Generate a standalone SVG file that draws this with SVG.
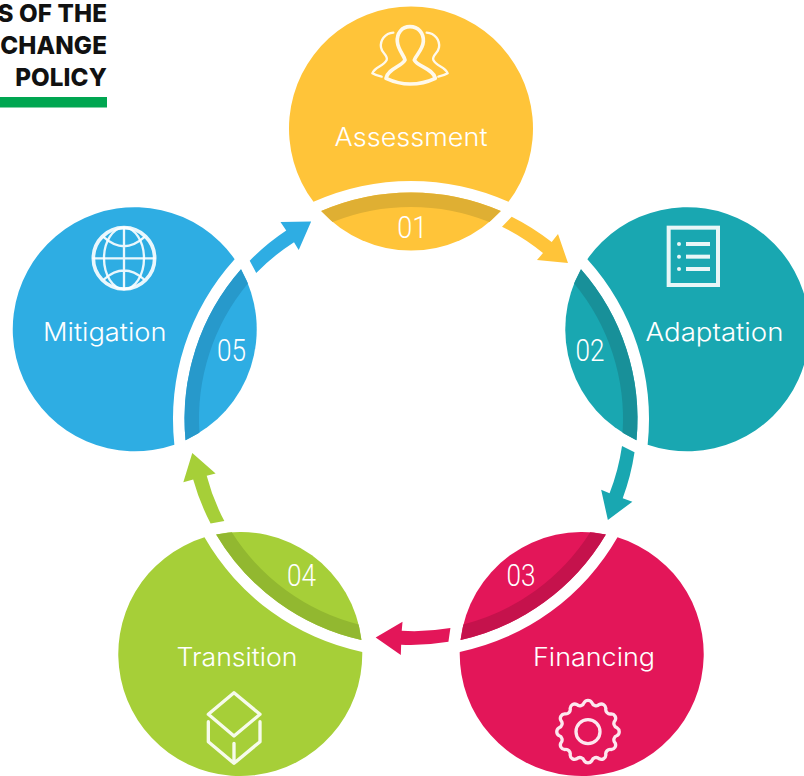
<svg xmlns="http://www.w3.org/2000/svg" width="804" height="776" viewBox="0 0 804 776">
<style>
.lbl{font-family:"Inter","Lato",sans-serif;font-weight:300;font-size:25.500px;fill:#fff;text-anchor:start}
.num{font-family:"Roboto","Liberation Sans",sans-serif;font-weight:300;font-size:31px;fill:#fff}
.head{font-family:"Inter","Liberation Sans",sans-serif;font-weight:800;font-size:24.200px;letter-spacing:.1px;fill:#111;text-anchor:end}
.ic{fill:none;stroke:#fff;stroke-opacity:.9;stroke-linecap:round;stroke-linejoin:round}
</style>
<defs>
<path id="main" d="M313.5 201.87A122 122 0 1 1 508.5 201.87A238 238 0 0 0 313.5 201.87Z"/>
<path id="small" d="M321.2 211.1A226.5 226.5 0 0 1 500.8 211.1A122 122 0 0 1 321.2 211.1Z"/>
<path id="band" d="M321.2 211.1A226.5 226.5 0 0 1 500.8 211.1L489.35 222A212 212 0 0 0 332.65 222Z"/>
<path id="arrow" d="M511.7 216.7A226 226 0 0 1 551.7 242.1L558 234L568 263L537 260L543 253.1A212 212 0 0 0 502 226.7Z"/>
</defs>
<rect width="804" height="776" fill="#fff"/>
<g id="title">
<text class="head" x="107" y="22">S OF THE</text>
<text class="head" x="107" y="54">CHANGE</text>
<text class="head" x="107" y="86">POLICY</text>
<rect x="0" y="97" width="107" height="10.500" fill="#00a651"/>
</g>
<g id="connectors">
<use href="#arrow" fill="#ffc439"/>
<use href="#arrow" fill="#19a7b1" transform="rotate(72 411 419)"/>
<use href="#arrow" fill="#e31659" transform="rotate(144 411 419)"/>
<use href="#arrow" fill="#a6cf38" transform="rotate(216 411 419)"/>
<use href="#arrow" fill="#2eade3" transform="rotate(288 411 419)"/>
</g>
<g id="node-assessment">
<use href="#main" fill="#ffc439"/><use href="#small" fill="#ffc439"/><use href="#band" fill="#dfaf33"/>
<g class="ic" transform="translate(280 10) scale(.33333)">
<path stroke-width="11" d="M390 50C365 50 350 70 352 95C354 120 372 135 375 150C365 170 325 175 318 205C340 215 370 222 390 222C420 222 445 215 466 205C458 175 412 170 403 150C408 135 428 120 430 95C432 70 415 50 390 50Z"/>
<path stroke-width="7" d="M340 68C315 70 300 90 303 112C305 130 325 135 320 150C310 170 285 170 277 190C285 195 295 198 305 200M440 68C465 70 480 90 477 112C475 130 455 135 460 150C470 170 495 170 503 190C495 195 485 198 475 200"/>
</g>
<text class="lbl" x="334.500" y="146" textLength="153" lengthAdjust="spacingAndGlyphs">Assessment</text>
<text class="num" x="397.300" y="238.300" textLength="30" lengthAdjust="spacingAndGlyphs">01</text>
</g>
<g id="node-adaptation">
<g transform="rotate(72 411 419)"><use href="#main" fill="#19a7b1"/><use href="#small" fill="#19a7b1"/><use href="#band" fill="#189099"/></g>
<g transform="translate(540 210) scale(.33333)">
<rect x="386" y="53" width="148" height="172" fill="none" stroke="#fff" stroke-opacity=".9" stroke-width="12"/>
<g fill="#fff" fill-opacity=".9"><circle cx="417" cy="102" r="6"/><circle cx="417" cy="140" r="6"/><circle cx="417" cy="177" r="6"/>
<rect x="438" y="96" width="72" height="12"/><rect x="438" y="134" width="72" height="12"/><rect x="438" y="171" width="72" height="12"/></g>
</g>
<text class="lbl" x="645.500" y="340.700" textLength="138" lengthAdjust="spacingAndGlyphs">Adaptation</text>
<text class="num" x="575.500" y="360.700" textLength="29" lengthAdjust="spacingAndGlyphs">02</text>
</g>
<g id="node-financing">
<g transform="rotate(144 411 419)"><use href="#main" fill="#e31659"/><use href="#small" fill="#e31659"/><use href="#band" fill="#c5124c"/></g>
<g class="ic" transform="translate(360 510) scale(.33333) translate(684 665)" stroke-width="10">
<circle r="36"/>
<path transform="rotate(7.500)" d="M88 0A13.500 13.500 0 0 0 85 22.800A13.500 13.500 0 0 1 76.200 44A13.500 13.500 0 0 0 62.200 62.200A13.500 13.500 0 0 1 44 76.200A13.500 13.500 0 0 0 22.800 85A13.500 13.500 0 0 1 0 88A13.500 13.500 0 0 0 -22.800 85A13.500 13.500 0 0 1 -44 76.200A13.500 13.500 0 0 0 -62.200 62.200A13.500 13.500 0 0 1 -76.200 44A13.500 13.500 0 0 0 -85 22.800A13.500 13.500 0 0 1 -88 0A13.500 13.500 0 0 0 -85 -22.800A13.500 13.500 0 0 1 -76.200 -44A13.500 13.500 0 0 0 -62.200 -62.200A13.500 13.500 0 0 1 -44 -76.200A13.500 13.500 0 0 0 -22.800 -85A13.500 13.500 0 0 1 0 -88A13.500 13.500 0 0 0 22.800 -85A13.500 13.500 0 0 1 44 -76.200A13.500 13.500 0 0 0 62.200 -62.200A13.500 13.500 0 0 1 76.200 -44A13.500 13.500 0 0 0 85 -22.800A13.500 13.500 0 0 1 88 0Z"/>
</g>
<text class="lbl" x="533" y="665.500" textLength="122" lengthAdjust="spacingAndGlyphs">Financing</text>
<text class="num" x="506.500" y="586" textLength="29" lengthAdjust="spacingAndGlyphs">03</text>
</g>
<g id="node-transition">
<g transform="rotate(216 411 419)"><use href="#main" fill="#a6cf38"/><use href="#small" fill="#a6cf38"/><use href="#band" fill="#92b830"/></g>
<g class="ic" transform="translate(110 450) scale(.33333)" stroke-width="10">
<path d="M372 728L450 793L372 858L295 793Z"/>
<path d="M295 815V875L372 940L450 875V815M372 880V940"/>
</g>
<text class="lbl" x="176.500" y="666" textLength="121" lengthAdjust="spacingAndGlyphs">Transition</text>
<text class="num" x="287" y="586" textLength="29" lengthAdjust="spacingAndGlyphs">04</text>
</g>
<g id="node-mitigation">
<g transform="rotate(288 411 419)"><use href="#main" fill="#2eade3"/><use href="#small" fill="#2eade3"/><use href="#band" fill="#2799cb"/></g>
<g class="ic" transform="translate(0 200) scale(.33333)">
<circle cx="372" cy="175" r="92" stroke-width="11"/>
<ellipse cx="372" cy="175" rx="60" ry="92" stroke-width="7"/>
<path stroke-width="7" d="M372 83V267M280 175H464M312 112Q372 165 432 112M312 238Q372 185 432 238"/>
</g>
<text class="lbl" x="43" y="340.700" textLength="123.500" lengthAdjust="spacingAndGlyphs">Mitigation</text>
<text class="num" x="217" y="360.700" textLength="29" lengthAdjust="spacingAndGlyphs">05</text>
</g>
</svg>
